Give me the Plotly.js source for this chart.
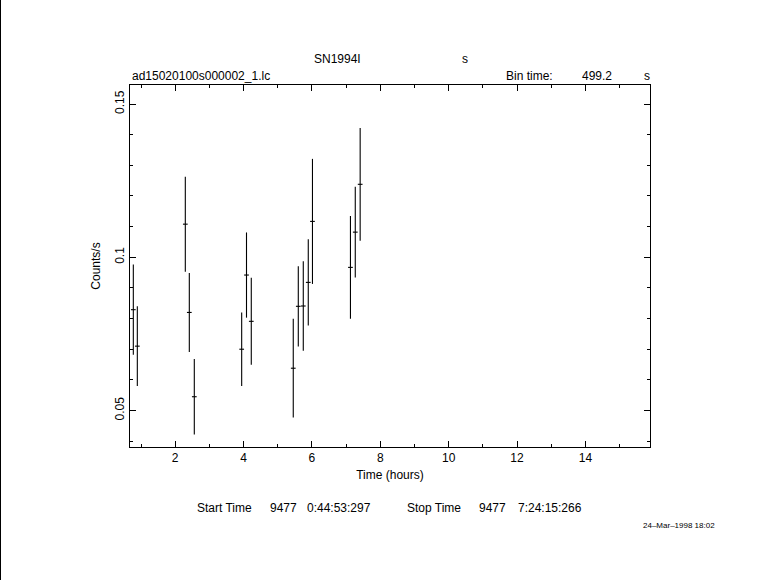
<!DOCTYPE html>
<html>
<head>
<meta charset="utf-8">
<script src="https://cdn.plot.ly/plotly-3.0.1.min.js"></script>
<style>
  html, body { margin: 0; padding: 0; background: #fff; }
  #chart { width: 781px; height: 580px; }
  #edge { position: absolute; left: 0; top: 0; width: 1px; height: 580px; background: #000; }
</style>
</head>
<body>
<div id="chart"></div>
<div id="edge"></div>
<script>
// Light curve of SN1994I (ASCA SIS), 499.2 s bins
const timeHours = [0.775, 0.892, 2.296, 2.413, 2.559, 3.945, 4.086, 4.226,
                   5.454, 5.601, 5.747, 5.893, 6.016, 7.127, 7.268, 7.411];
const countRate = [0.0829, 0.0710, 0.1108, 0.0820, 0.0545, 0.0700, 0.0942, 0.0791,
                   0.0638, 0.0840, 0.0841, 0.0918, 0.1117, 0.0967, 0.1082, 0.1238];
const rateError = [0.0147, 0.0130, 0.0155, 0.0129, 0.0123, 0.0120, 0.0139, 0.0142,
                   0.0161, 0.0131, 0.0146, 0.0141, 0.0204, 0.0168, 0.0148, 0.0184];
const halfBinHours = 0.0693;

const W = 781, H = 580;
const M = {l: 130, r: 131, t: 85, b: 133};
const pw = W - M.l - M.r, ph = H - M.t - M.b;
const px = p => (p - M.l) / pw;          // page px -> paper x
const py = p => (H - M.b - p) / ph;      // page px -> paper y

const font = {family: 'Liberation Sans, Arial, sans-serif', size: 12, color: '#000'};

function ann(text, x, y, xanchor, size) {
  return {text: text, xref: 'paper', yref: 'paper', x: px(x), y: py(y),
          xanchor: xanchor || 'left', yanchor: 'middle', showarrow: false,
          font: Object.assign({}, font, size ? {size: size} : {})};
}

const trace = {
  x: timeHours, y: countRate, type: 'scatter', mode: 'markers',
  marker: {size: 0.1, color: '#000'},
  error_y: {type: 'data', array: rateError, visible: true, color: '#000', thickness: 1.1, width: 0},
  error_x: {type: 'constant', value: halfBinHours, visible: true, color: '#000', thickness: 1.1, width: 0},
  hoverinfo: 'skip', showlegend: false
};

const layout = {
  width: W, height: H, margin: M,
  paper_bgcolor: '#fff', plot_bgcolor: '#fff',
  font: font, showlegend: false,
  xaxis: {
    range: [0.678, 15.89], tick0: 0, dtick: 2,
    showgrid: false, zeroline: false, showline: true, linecolor: '#000', linewidth: 1,
    mirror: 'ticks', ticks: 'inside', ticklen: 6, tickcolor: '#000', tickwidth: 1,
    minor: {dtick: 1, ticks: 'inside', ticklen: 3, tickcolor: '#000', showgrid: false},
    tickfont: font,
    title: {text: 'Time (hours)', font: font, standoff: 6}
  },
  yaxis: {
    range: [0.0381, 0.1562], tick0: 0, dtick: 0.05,
    showgrid: false, zeroline: false, showline: true, linecolor: '#000', linewidth: 1,
    mirror: 'ticks', ticks: 'inside', ticklen: 6, tickcolor: '#000', tickwidth: 1,
    minor: {dtick: 0.01, ticks: 'inside', ticklen: 3, tickcolor: '#000', showgrid: false},
    tickangle: -90, tickfont: font,
    title: {text: 'Counts/s', font: font, standoff: 10}
  },
  annotations: [
    ann('SN1994I', 337, 59, 'center'),
    ann('s', 465, 59, 'center'),
    ann('ad15020100s000002_1.lc', 130, 76),
    ann('Bin time:', 504, 76),
    ann('499.2', 580, 76),
    ann('s', 647, 76, 'center'),
    ann('Start Time', 195, 508),
    ann('9477', 268, 508),
    ann('0:44:53:297', 305, 508),
    ann('Stop Time', 405, 508),
    ann('9477', 477, 508),
    ann('7:24:15:266', 516, 508),
    ann('24\u2013Mar\u20131998 18:02', 641, 525, 'left', 8)
  ]
};

Plotly.newPlot('chart', [trace], layout, {displayModeBar: false, staticPlot: true});
</script>
</body>
</html>
